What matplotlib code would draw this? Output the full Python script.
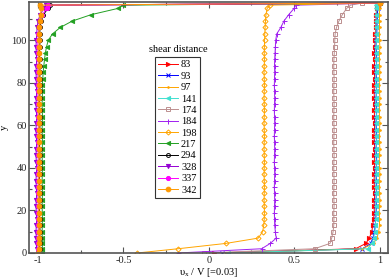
import matplotlib
matplotlib.use('Agg')
import matplotlib.pyplot as plt
from matplotlib.ticker import MultipleLocator

plt.rcParams['font.family'] = ['Liberation Serif', 'DejaVu Serif']
plt.rcParams['mathtext.fontset'] = 'custom'
plt.rcParams['mathtext.rm'] = 'Liberation Serif'
plt.rcParams['mathtext.it'] = 'Liberation Serif'
plt.rcParams['axes.unicode_minus'] = False

# heights (y) shared by all profiles
y = [0, 2, 4.5, 7, 10, 13, 16, 19, 22, 25, 28, 31, 34, 37,
     40, 43, 46, 49, 52, 55, 58, 61, 64, 67, 70, 73, 76, 79,
     82, 85, 88, 91, 94, 97, 100, 103, 106, 109, 112, 115, 116.5, 117.5]

shear_distance = ['83', '93', '97', '141', '174', '184', '198', '217', '294', '328', '337', '342']

vx_83 = [0.03, 0.86, 0.92, 0.94, 0.955, 0.96, 0.965, 0.97, 0.968, 0.97, 0.972, 0.97, 0.968, 0.97,
         0.972, 0.97, 0.97, 0.972, 0.97, 0.968, 0.97, 0.972, 0.97, 0.97, 0.972, 0.97, 0.968, 0.97,
         0.972, 0.97, 0.97, 0.972, 0.97, 0.972, 0.975, 0.975, 0.978, 0.98, 0.982, 0.985, 0.99, 1.0]
vx_93 = [0.08, 0.9, 0.95, 0.962, 0.97, 0.975, 0.978, 0.98, 0.982, 0.98, 0.982, 0.984, 0.982, 0.98,
         0.982, 0.984, 0.982, 0.98, 0.982, 0.984, 0.982, 0.98, 0.982, 0.984, 0.982, 0.98, 0.982, 0.984,
         0.982, 0.98, 0.982, 0.984, 0.982, 0.98, 0.982, 0.984, 0.985, 0.986, 0.988, 0.99, 0.992, 1.0]
vx_97 = [0.1, 0.9, 0.965, 0.985, 0.995, 1.0, 1.0, 0.998, 1.0, 1.002, 1.0, 0.998, 1.0, 1.002,
         1.0, 0.998, 1.0, 1.002, 1.0, 0.998, 1.0, 1.002, 1.0, 0.998, 1.0, 1.002, 1.0, 0.998,
         1.0, 1.002, 1.0, 0.998, 1.0, 1.002, 1.0, 0.998, 1.0, 1.0, 1.0, 1.0, 1.0, 1.0]
vx_141 = [0.11, 0.93, 0.955, 0.965, 0.972, 0.976, 0.978, 0.98, 0.978, 0.98, 0.982, 0.98, 0.978, 0.98,
          0.982, 0.98, 0.978, 0.98, 0.982, 0.98, 0.978, 0.98, 0.982, 0.98, 0.978, 0.98, 0.982, 0.98,
          0.978, 0.98, 0.982, 0.98, 0.978, 0.98, 0.982, 0.98, 0.978, 0.98, 0.98, 0.98, 0.98, 0.98]
vx_174 = [-0.03, 0.62, 0.71, 0.72, 0.728, 0.732, 0.733, 0.732, 0.734, 0.733, 0.732, 0.733, 0.734, 0.733,
          0.732, 0.733, 0.734, 0.733, 0.732, 0.733, 0.734, 0.733, 0.732, 0.733, 0.734, 0.733, 0.732, 0.733,
          0.734, 0.733, 0.732, 0.733, 0.735, 0.737, 0.738, 0.74, 0.748, 0.762, 0.782, 0.808, 0.83, 0.9]
vx_184 = [-0.18, 0.31, 0.36, 0.395, 0.39, 0.386, 0.385, 0.384, 0.385, 0.386, 0.385, 0.384, 0.385, 0.386,
          0.385, 0.384, 0.385, 0.386, 0.385, 0.384, 0.385, 0.386, 0.385, 0.384, 0.385, 0.386, 0.385, 0.384,
          0.385, 0.386, 0.385, 0.386, 0.388, 0.39, 0.392, 0.398, 0.422, 0.44, 0.468, 0.5, 0.51, 1.0]
vx_198 = [-0.42, -0.18, 0.1, 0.29, 0.315, 0.322, 0.325, 0.326, 0.325, 0.324, 0.325, 0.326, 0.325, 0.324,
          0.325, 0.326, 0.325, 0.324, 0.325, 0.326, 0.325, 0.324, 0.325, 0.326, 0.325, 0.324, 0.325, 0.326,
          0.325, 0.324, 0.325, 0.326, 0.325, 0.326, 0.327, 0.328, 0.33, 0.332, 0.335, 0.342, 0.36, 1.0]
vx_217 = [-0.975, -0.975, -0.974, -0.975, -0.976, -0.975, -0.974, -0.975, -0.976, -0.975, -0.974, -0.975, -0.976, -0.975,
          -0.974, -0.975, -0.976, -0.975, -0.974, -0.975, -0.976, -0.975, -0.974, -0.975, -0.976, -0.975, -0.974, -0.975,
          -0.972, -0.97, -0.966, -0.962, -0.957, -0.95, -0.94, -0.915, -0.87, -0.8, -0.69, -0.53, -0.5, 1.0]
vx_294 = [-1.0, -0.99, -0.99, -0.99, -0.988, -0.99, -0.99, -0.992, -0.99, -0.988, -0.99, -0.99, -0.992, -0.99,
          -0.99, -0.99, -0.988, -0.99, -0.992, -0.99, -0.99, -0.988, -0.99, -0.99, -0.992, -0.99, -0.988, -0.99,
          -0.99, -0.988, -0.99, -0.99, -0.992, -0.99, -0.988, -0.99, -0.988, -0.982, -0.968, -0.942, -0.93, 1.0]
vx_328 = [-1.0, -1.008, -1.01, -1.01, -1.012, -1.01, -1.008, -1.01, -1.012, -1.01, -1.008, -1.01, -1.012, -1.01,
          -1.008, -1.01, -1.012, -1.01, -1.008, -1.01, -1.012, -1.01, -1.008, -1.01, -1.012, -1.01, -1.008, -1.01,
          -1.01, -1.012, -1.01, -1.008, -1.01, -1.012, -1.01, -1.008, -1.005, -1.0, -0.988, -0.965, -0.955, 1.0]
vx_337 = [-1.0, -1.0, -1.002, -1.0, -0.998, -1.0, -1.002, -1.0, -0.998, -1.0, -1.002, -1.0, -0.998, -1.0,
          -1.002, -1.0, -0.998, -1.0, -1.002, -1.0, -0.998, -1.0, -1.002, -1.0, -0.998, -1.0, -1.002, -1.0,
          -1.0, -1.002, -1.0, -0.998, -1.0, -1.002, -1.0, -0.998, -0.995, -0.99, -0.975, -0.948, -0.94, 1.0]
vx_342 = [-1.0, -0.995, -0.996, -0.995, -0.994, -0.995, -0.996, -0.995, -0.994, -0.995, -0.996, -0.995, -0.994, -0.995,
          -0.996, -0.995, -0.994, -0.995, -0.996, -0.995, -0.994, -0.995, -0.996, -0.995, -0.994, -0.995, -0.996, -0.995,
          -0.996, -0.995, -0.994, -0.995, -0.996, -0.995, -0.994, -0.995, -0.993, -0.99, -0.985, -0.982, -0.99, 1.0]

profiles = [vx_83, vx_93, vx_97, vx_141, vx_174, vx_184, vx_198, vx_217, vx_294, vx_328, vx_337, vx_342]

# (color, marker, filled, markersize)
styles = [
    ('#ff0000', '>', True, 3.0),
    ('#0000ff', 'x', True, 2.8),
    ('#ffa500', '.', True, 2.3),
    ('#40e0d0', '<', True, 3.0),
    ('#bc8f8f', 's', False, 3.0),
    ('#a020f0', '+', True, 3.6),
    ('#ffa500', 'D', False, 2.6),
    ('#22a022', '<', True, 3.0),
    ('#000000', 'o', False, 2.8),
    ('#9400d3', 'v', True, 3.0),
    ('#ff00ff', 'o', True, 3.0),
    ('#ff9900', 'o', True, 3.4),
]

fig = plt.figure(figsize=(3.9, 2.79), dpi=100)
ax = fig.add_axes([0.0756, 0.0932, 0.9194, 0.8998])

for vx, name, (c, m, filled, ms) in zip(profiles, shear_distance, styles):
    ax.plot(vx, y, color=c, lw=0.7, marker=m, ms=ms, mew=0.7,
            mfc=c if filled else 'none', mec=c, label=name)

ax.set_xlim(-1.05, 1.05)
ax.set_ylim(0, 118)
ax.set_xticks([-1, -0.5, 0, 0.5, 1])
ax.set_xticklabels(['-1', '-0.5', '0', '0.5', '1'])
ax.set_yticks([0, 20, 40, 60, 80, 100])
ax.xaxis.set_minor_locator(MultipleLocator(0.25))
ax.yaxis.set_minor_locator(MultipleLocator(10))

gray = '#555555'
for s in ax.spines.values():
    s.set_color(gray)
    s.set_linewidth(1.2)
ax.tick_params(which='both', direction='in', top=True, right=True, color=gray,
               labelsize=7.5, labelcolor='#222222', pad=2)
ax.tick_params(which='major', length=4, width=0.8)
ax.tick_params(which='minor', length=2, width=0.8)

ax.set_xlabel(r'$\upsilon_x$ / V [=0.03]', fontsize=7.5, labelpad=1)
ax.set_ylabel('y', fontsize=7.5, labelpad=2)

leg = ax.legend(loc='upper left', bbox_to_anchor=(155 / 390, (279 - 57) / 279),
                bbox_transform=fig.transFigure, borderaxespad=0, fontsize=7.5,
                frameon=True, fancybox=False, framealpha=1, handlelength=1.9,
                handletextpad=0.3, labelspacing=0.2, borderpad=0.3)
leg.get_frame().set_edgecolor('#333333')
leg.get_frame().set_linewidth(0.8)
fig.text(178 / 390, (279 - 50) / 279, 'shear distance', fontsize=7.5,
         ha='center', va='center')

fig.savefig('out.png', dpi=100)
